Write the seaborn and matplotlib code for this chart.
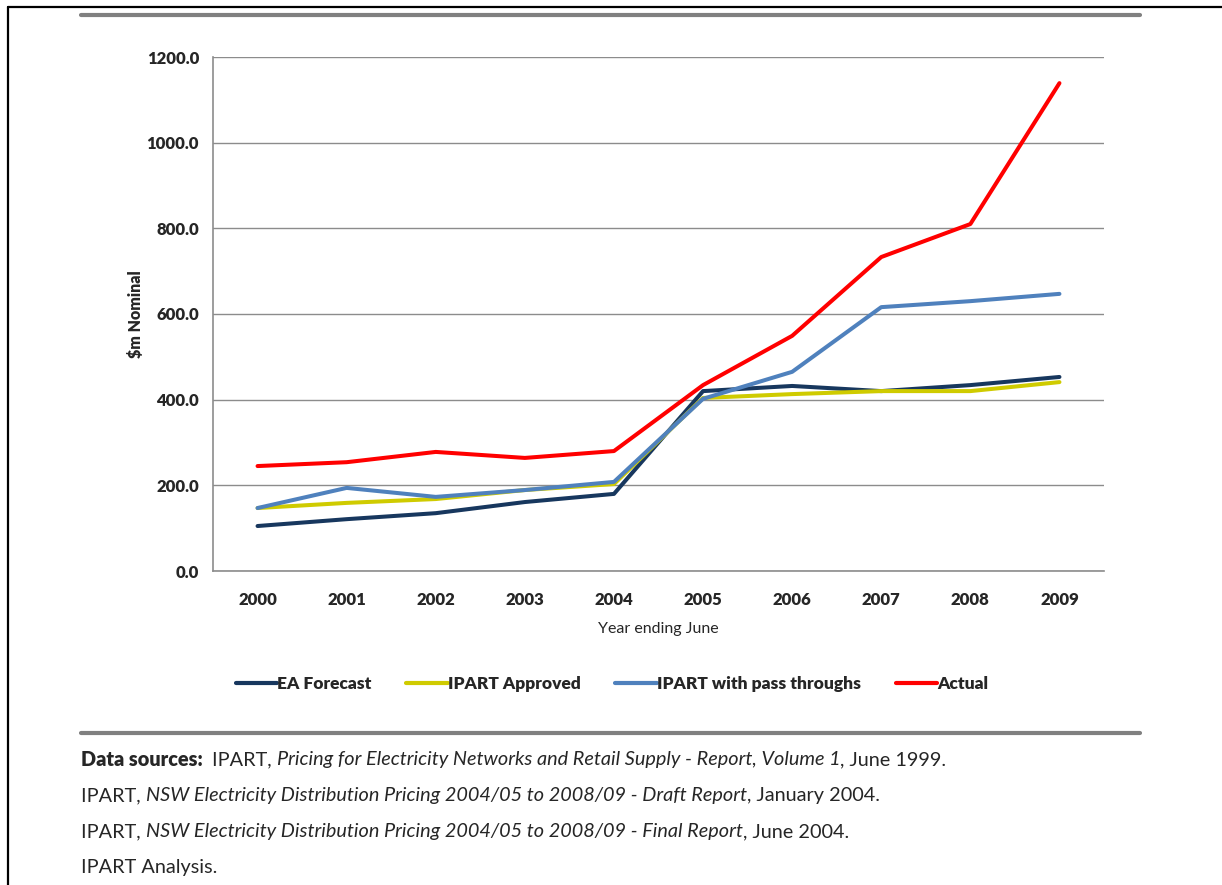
import numpy as np
import pandas as pd
import matplotlib
matplotlib.use("Agg")
import matplotlib.pyplot as plt
from matplotlib.lines import Line2D
from matplotlib.ticker import FixedLocator, FormatStrFormatter
import seaborn as sns

# chart data
years = [2000, 2001, 2002, 2003, 2004, 2005, 2006, 2007, 2008, 2009]
ea_forecast = [105, 121, 135, 161, 180, 420, 432, 420, 434, 453]
ipart_approved = [147, 159, 168, 189, 203, 404, 413, 420, 420, 441]
ipart_pass = [147, 194, 173, 189, 208, 402, 465, 616, 630, 647]
actual = [245, 254, 278, 264, 280, 434, 549, 733, 810, 1139]

series_names = ["EA Forecast", "IPART Approved", "IPART with pass throughs", "Actual"]
colors = ["#17375E", "#CFCB00", "#4F81BD", "#FF0000"]

notes = [
    [("Data sources:  ", "bold"), ("IPART, ", "normal"),
     ("Pricing for Electricity Networks and Retail Supply - Report, Volume 1", "italic"),
     (", June 1999.", "normal")],
    [("IPART, ", "normal"),
     ("NSW Electricity Distribution Pricing 2004/05 to 2008/09 - Draft Report", "italic"),
     (", January 2004.", "normal")],
    [("IPART, ", "normal"),
     ("NSW Electricity Distribution Pricing 2004/05 to 2008/09 - Final Report", "italic"),
     (", June 2004.", "normal")],
    [("IPART Analysis.", "normal")],
]


def main():
    sns.set_style("white")
    plt.rcParams["font.family"] = ["Lato", "DejaVu Sans"]

    df = pd.DataFrame({
        "year": years * 4,
        "value": ea_forecast + ipart_approved + ipart_pass + actual,
        "series": sum([[n] * len(years) for n in series_names], []),
    })

    W, H = 1222, 885
    fig = plt.figure(figsize=(W / 100, H / 100), dpi=100)
    ax = fig.add_axes([213 / W, 1 - 571 / H, (1104 - 213) / W, (571 - 57) / H])

    sns.lineplot(data=df, x="year", y="value", hue="series",
                 hue_order=series_names, palette=colors,
                 linewidth=2.9, ax=ax, legend=False)

    # axes styling
    ax.set_xlim(1999.5, 2009.5)
    ax.set_ylim(0, 1200)
    ax.set_yticks(np.arange(0, 1201, 200))
    ax.yaxis.set_major_formatter(FormatStrFormatter("%.1f"))
    ax.grid(axis="y", color="#8c8c8c", linewidth=1.0)
    ax.set_axisbelow(True)
    for s in ["top", "right"]:
        ax.spines[s].set_visible(False)
    for s in ["left", "bottom"]:
        ax.spines[s].set_color("#8c8c8c")
        ax.spines[s].set_linewidth(1.2)

    ax.set_xticks(years)
    ax.set_xticklabels([str(y) for y in years])
    ax.xaxis.set_minor_locator(FixedLocator(np.arange(1999.5, 2010, 1)))
    ax.tick_params(axis="x", which="major", length=0, pad=15)
    ax.tick_params(axis="x", which="minor", length=6, color="#8c8c8c", width=1.2, direction="out")
    ax.tick_params(axis="y", length=6, color="#8c8c8c", width=1.2, direction="out", pad=4)
    for lab in ax.get_xticklabels() + ax.get_yticklabels():
        lab.set_fontweight("heavy")
        lab.set_fontsize(12)

    ax.set_xlabel("Year ending June", fontsize=11.5, labelpad=10)
    ax.set_ylabel(r"\$m Nominal", fontsize=11.5, fontweight="heavy", labelpad=2)

    # legend below the plot
    handles = [Line2D([0], [0], color=c, linewidth=3) for c in colors]
    fig.legend(handles, series_names, loc="center", ncol=4,
               bbox_to_anchor=(612 / W, 1 - 684 / H), frameon=False,
               handlelength=2.4, handletextpad=0.0, columnspacing=2.0,
               prop={"weight": "heavy", "size": 12.5})

    # frame and rules
    fig.add_artist(Line2D([8 / W, 8 / W], [0, 1 - 7 / H], color="black", linewidth=1.6))
    fig.add_artist(Line2D([8 / W, 1], [1 - 7 / H, 1 - 7 / H], color="black", linewidth=1.6))
    fig.add_artist(Line2D([81 / W, 1140 / W], [1 - 15 / H, 1 - 15 / H], color="#808080", linewidth=3))
    fig.add_artist(Line2D([81 / W, 1140 / W], [1 - 733 / H, 1 - 733 / H], color="#808080", linewidth=3))

    # source notes, mixed styles
    renderer = fig.canvas.get_renderer()
    for i, parts in enumerate(notes):
        x = 81 / W
        y = 1 - (760 + 36 * i) / H
        for txt, style in parts:
            kw = {"fontsize": 14.3, "va": "center", "ha": "left"}
            if style == "bold":
                kw["fontweight"] = "heavy"
            elif style == "italic":
                kw["fontstyle"] = "italic"
            t = fig.text(x, y, txt, **kw)
            bb = t.get_window_extent(renderer=renderer)
            x = bb.x1 / W

    fig.savefig("out.png", dpi=100)


if __name__ == "__main__":
    main()
